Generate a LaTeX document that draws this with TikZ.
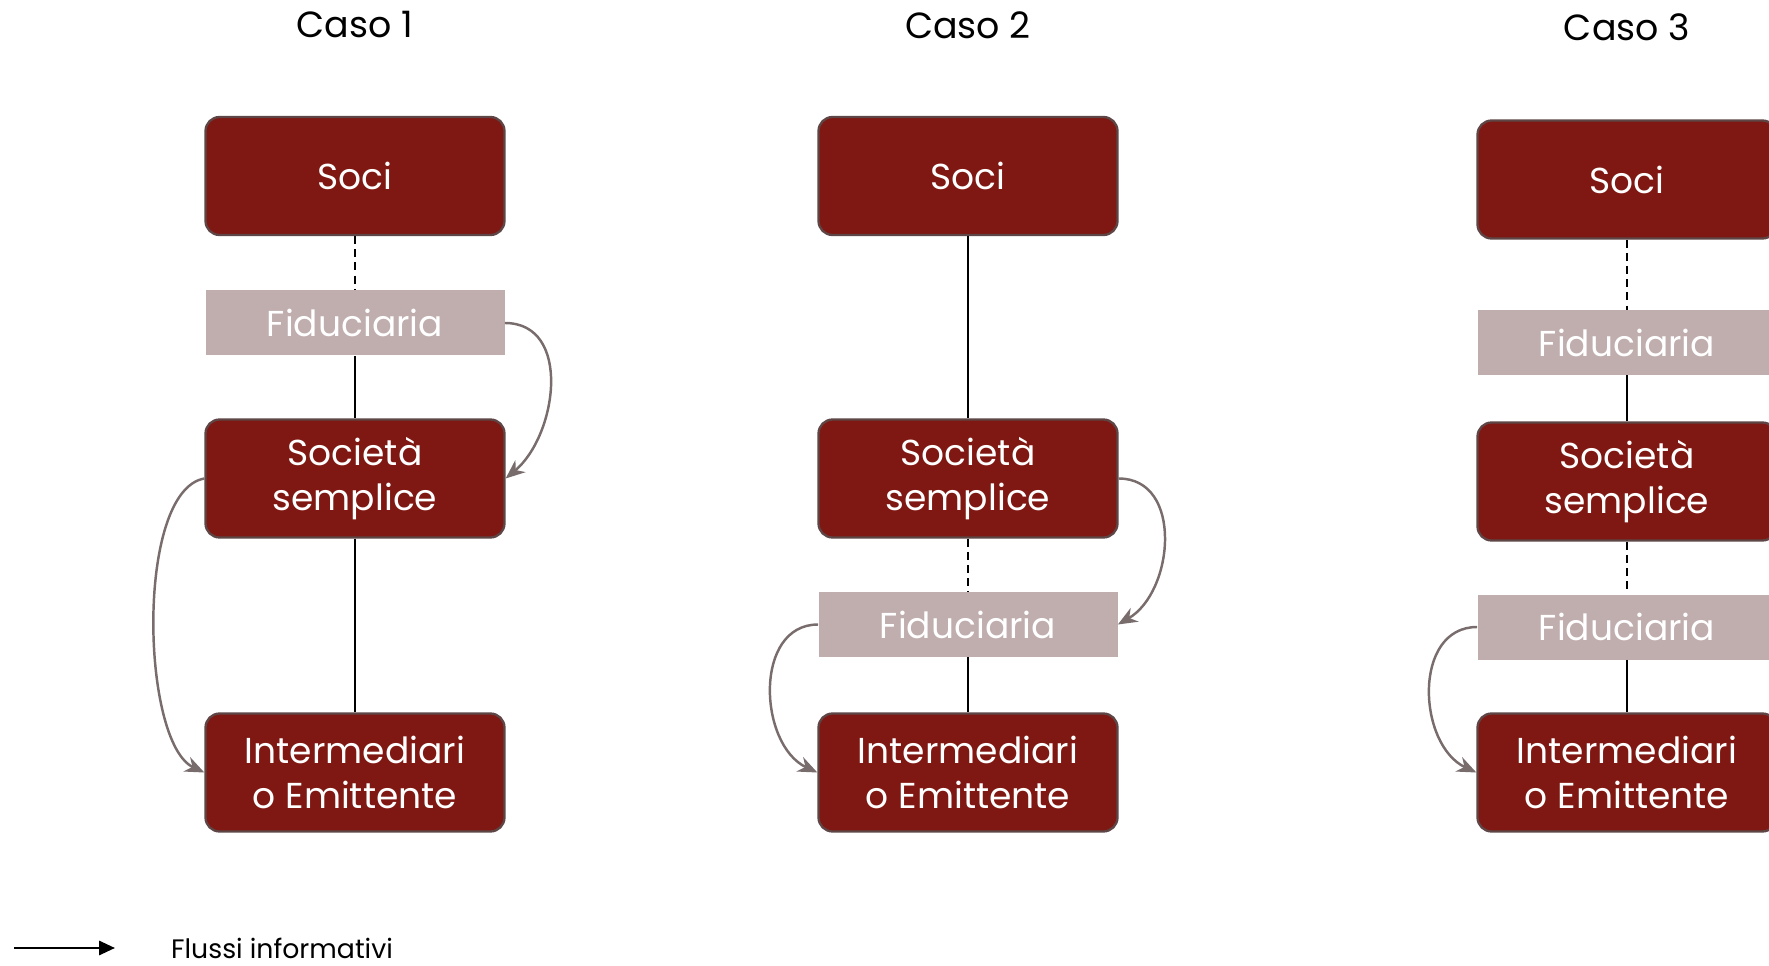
\documentclass[tikz,border=0pt]{standalone}
\usepackage{fontspec}
\setmainfont{Poppins}
\usetikzlibrary{arrows.meta,positioning}
\definecolor{boxred}{HTML}{7F1812}
\definecolor{boxline}{HTML}{5E4646}
\definecolor{fidfill}{HTML}{C0ADAD}
\definecolor{flowgray}{HTML}{786C6C}
\tikzset{
  % soggetti principali
  ent/.style={rounded corners=8pt,draw=boxline,line width=1.3pt,fill=boxred,text=white,
    minimum width=5.98cm,minimum height=2.36cm,inner sep=0pt,align=center,
    font=\fontsize{20.5}{25.6}\selectfont},
  % fiduciaria
  fidbox/.style={fill=fidfill,text=white,minimum width=5.98cm,minimum height=1.30cm,
    inner sep=0pt,font=\fontsize{20.5}{25.6}\selectfont},
  % collegamenti
  link/.style={line width=0.9pt,black},
  linkdash/.style={link,dash pattern=on 4.5pt off 3pt},
  % flussi informativi
  flow/.style={line width=1.4pt,flowgray,-{Stealth[length=11pt,width=9pt]}},
  legendarrow/.style={line width=1.4pt,black,-{Triangle[length=9pt,width=8pt]}},
}

\begin{document}
\begin{tikzpicture}[
  casetitle/.style={font=\fontsize{20.7}{25}\selectfont},
  lbl/.style={font=\fontsize{15.2}{18}\selectfont,anchor=west},
]
\useasboundingbox (0,0) rectangle (35.38,-19.32);

%% ===== Caso 1 =====
\def\xA{7.10}
\node[casetitle] (t1) at (\xA,-0.50) {Caso 1};
\node[ent]    (soci1) at (\xA,-3.52)  {Soci};
\node[fidbox] (fid1)  at (\xA,-6.46)  {Fiduciaria};
\node[ent]    (ss1)   at (\xA,-9.57)  {Società\\semplice};
\node[ent]    (int1)  at (\xA,-15.45) {Intermediari\\o Emittente};
\draw[linkdash] (soci1) -- (fid1);
\draw[link] (fid1) -- (ss1);
\draw[link] (ss1) -- (int1);
\draw[flow] (fid1.east) to[out=0,in=40,distance=1.35cm] (ss1.east);
\draw[flow] (ss1.west) to[out=190,in=155,distance=1.4cm] (int1.west);

%% ===== Caso 2 =====
\def\xB{19.36}
\node[casetitle] (t2) at (\xB,-0.50) {Caso 2};
\node[ent]    (soci2) at (\xB,-3.52)  {Soci};
\node[ent]    (ss2)   at (\xB,-9.57)  {Società\\semplice};
\node[fidbox] (fid2)  at (\xB,-12.49) {Fiduciaria};
\node[ent]    (int2)  at (\xB,-15.45) {Intermediari\\o Emittente};
\draw[link] (soci2) -- (ss2);
\draw[linkdash] (ss2) -- (fid2);
\draw[link] (fid2) -- (int2);
\draw[flow] (ss2.east) to[out=0,in=30,distance=1.3cm] (fid2.east);
\draw[flow] (fid2.west) to[out=180,in=155,distance=1.3cm] (int2.west);

%% ===== Caso 3 =====
\def\xC{32.54}
\node[casetitle] (t3) at (\xC,-0.54) {Caso 3};
\node[ent]    (soci3) at (\xC,-3.59)  {Soci};
\node[fidbox] (fidA3) at (\xC,-6.85)  {Fiduciaria};
\node[ent]    (ss3)   at (\xC,-9.63)  {Società\\semplice};
\node[fidbox] (fidB3) at (\xC,-12.54) {Fiduciaria};
\node[ent]    (int3)  at (\xC,-15.45) {Intermediari\\o Emittente};
\draw[linkdash] (soci3) -- (fidA3);
\draw[link] (fidA3) -- (ss3);
\draw[linkdash] (ss3) -- (fidB3);
\draw[link] (fidB3) -- (int3);
\draw[flow] (fidB3.west) to[out=180,in=155,distance=1.3cm] (int3.west);

%% ===== legenda =====
\coordinate (lgA) at (0.28,-18.96);
\coordinate (lgB) at (2.30,-18.96);
\draw[legendarrow] (lgA) -- (lgB);
\node[lbl] (lgtext) at (3.30,-18.96) {Flussi informativi};
\end{tikzpicture}
\end{document}
